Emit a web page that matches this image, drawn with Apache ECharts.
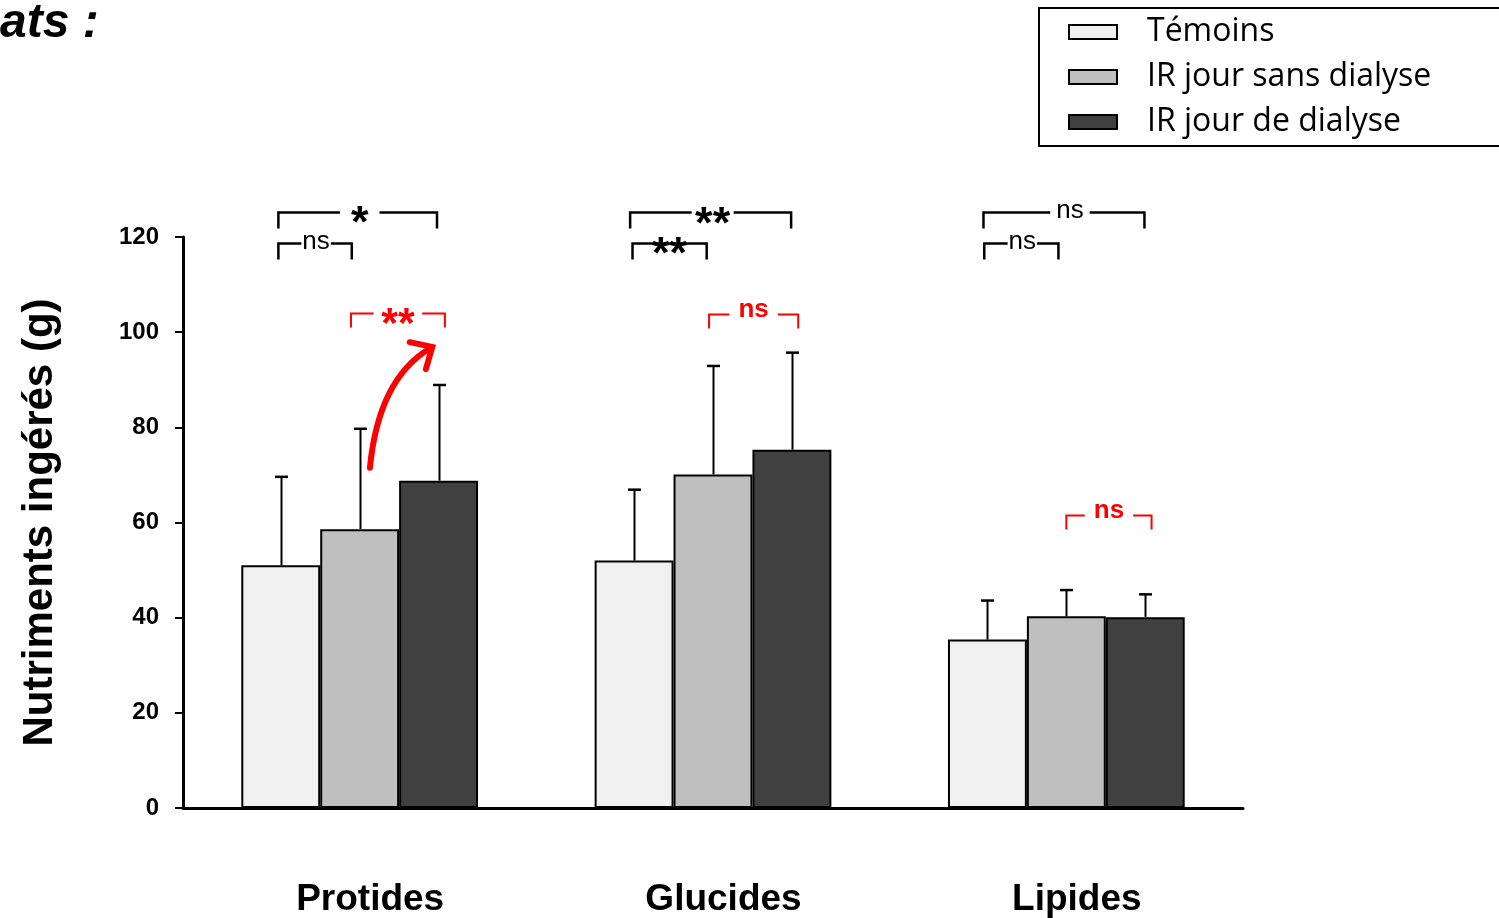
<!DOCTYPE html>
<html>
<head>
<meta charset="utf-8">
<script src="https://cdn.jsdelivr.net/npm/echarts@6/dist/echarts.min.js"></script>
<style>html,body{margin:0;padding:0;background:#fff;}#c{width:1499px;height:918px;}</style>
</head>
<body>
<div id="c"></div>
<script>
// ---- data ----
const categories = ['Protides', 'Glucides', 'Lipides'];
const seriesNames = ['Témoins', 'IR jour sans dialyse', 'IR jour de dialyse'];
const temoins = [51.0, 52.0, 35.4];
const irSans = [58.6, 70.1, 40.3];
const irDe = [68.8, 75.3, 40.1];
const temoinsUpper = [69.6, 66.9, 43.6];
const irSansUpper = [79.7, 92.9, 45.8];
const irDeUpper = [88.9, 95.7, 44.9];
const yTicks = [0, 20, 40, 60, 80, 100, 120];
const titleText = 'ats :';
const yAxisTitle = 'Nutriments ingérés (g)';

// significance annotations (category, bracket level value, from/to in bar units, label, kind)
const sigCat = [0, 0, 0, 1, 1, 1, 2, 2, 2];
const sigLevel = [125.2, 118.7, 104.0, 125.2, 118.7, 103.8, 125.2, 118.7, 61.5];
const sigFrom = [-0.03, -0.03, 0.89, -0.05, -0.02, 0.95, -0.05, -0.04, 1.0];
const sigTo = [1.98, 0.9, 2.08, 1.99, 0.92, 2.08, 1.99, 0.9, 2.08];
const sigText = ['*', 'ns', '**', '**', '**', 'ns', 'ns', 'ns', 'ns'];
const sigKind = ['top', 'low', 'red', 'top', 'low', 'red', 'top', 'low', 'red'];

// curved red arrow anchors (bar units / values) in Protides
const arrowBar = [1.13, 1.2, 1.44, 1.92];
const arrowVal = [71.5, 83.7, 92.1, 96.9];

const colors = ['#f0f0f0', '#bfbfbf', '#404040'];
const barValues = [temoins, irSans, irDe];
const upperValues = [temoinsUpper, irSansUpper, irDeUpper];
const CAT_GAP = 0.33;

const measureCtx = document.createElement('canvas').getContext('2d');
function textWidth(txt, font) { measureCtx.font = font; return measureCtx.measureText(txt).width; }

const chart = echarts.init(document.getElementById('c'));

function barW(api) {
  return api.size([1, 0])[0] * (1 - CAT_GAP) / 3;
}

const errData = [];
for (let s = 0; s < 3; s++) {
  for (let c = 0; c < categories.length; c++) {
    errData.push([c, s, barValues[s][c], upperValues[s][c]]);
  }
}

const sigData = sigCat.map((c, i) => [c, sigLevel[i], sigFrom[i], sigTo[i], i]);

const barSeries = seriesNames.map((name, s) => ({
  name: name,
  type: 'bar',
  data: barValues[s],
  barGap: '0%',
  barCategoryGap: (CAT_GAP * 100) + '%',
  itemStyle: { color: colors[s], borderColor: '#000', borderWidth: 2 },
  emphasis: { disabled: true },
  z: 2
}));

function sigStyle(kind, txt) {
  const star = txt.indexOf('*') >= 0;
  if (kind === 'red') {
    return star ? { font: 'bold 43px "Liberation Sans"', pad: 7.5, dy: 11.5, dx: 0 }
                : { font: 'bold 26px "Liberation Sans"', pad: 9, dy: -5, dx: 0 };
  }
  if (star) {
    if (kind === 'top') return { font: 'bold 45px "Liberation Sans"', pad: txt.length > 1 ? 3.5 : 11, dy: txt.length > 1 ? 13.5 : 12, dx: 2 };
    return { font: 'bold 45px "Liberation Sans"', pad: -1, dy: 12.5, dx: 0 };
  }
  return { font: '26px "Liberation Sans"', pad: kind === 'top' ? 6 : 1, dy: -2, dx: kind === 'top' ? 6 : 1 };
}

const option = {
  animation: false,
  backgroundColor: '#fff',
  textStyle: { fontFamily: 'Liberation Sans' },
  graphic: [{
    type: 'text', left: 0, top: 0,
    style: { text: titleText, font: 'italic bold 48px "Liberation Sans"', fill: '#000' }
  }],
  legend: {
    orient: 'vertical',
    left: 1039, top: 8,
    padding: [7, 200, 7, 29],
    borderColor: '#000', borderWidth: 2,
    itemWidth: 48, itemHeight: 14, itemGap: 11,
    icon: 'rect',
    data: seriesNames,
    textStyle: { fontFamily: 'Open Sans', fontSize: 32, color: '#000', lineHeight: 34, padding: [0, 0, 0, 25] },
    selectedMode: false
  },
  grid: { left: 183, right: 256, top: 237, bottom: 109, containLabel: false },
  xAxis: {
    type: 'category',
    data: categories,
    axisLine: { lineStyle: { color: '#000', width: 3 } },
    axisTick: { show: false },
    axisLabel: { color: '#000', fontSize: 37, fontWeight: 'bold', margin: 73, padding: [0, 0, 0, 21], fontFamily: 'Liberation Sans' }
  },
  yAxis: {
    type: 'value', min: yTicks[0], max: yTicks[yTicks.length - 1], interval: yTicks[1] - yTicks[0],
    name: yAxisTitle, nameLocation: 'middle', nameRotate: 90, nameGap: 122,
    nameTextStyle: { fontSize: 42, fontWeight: 'bold', color: '#000', fontFamily: 'Liberation Sans' },
    axisLine: { show: true, lineStyle: { color: '#000', width: 3 } },
    axisTick: { show: true, inside: false, length: 8, lineStyle: { color: '#000', width: 2 } },
    axisLabel: { color: '#000', fontSize: 24, fontWeight: 'bold', margin: 24, fontFamily: 'Liberation Sans' },
    splitLine: { show: false }
  },
  series: barSeries.concat([
    {
      type: 'custom',
      z: 5,
      silent: true,
      data: errData,
      encode: { x: 0, y: 3 },
      renderItem: function (params, api) {
        const c = api.value(0), s = api.value(1);
        const bw = barW(api);
        const base = api.coord([c, api.value(2)]);
        const top = api.coord([c, api.value(3)]);
        const x = Math.round(base[0] + (s - 1) * bw) + 0.5;
        return {
          type: 'group',
          children: [
            { type: 'line', shape: { x1: x, y1: base[1], x2: x, y2: top[1] }, style: { stroke: '#000', lineWidth: 2 } },
            { type: 'line', shape: { x1: x - 6.5, y1: top[1], x2: x + 6.5, y2: top[1] }, style: { stroke: '#000', lineWidth: 2.5 } }
          ]
        };
      }
    },
    {
      type: 'custom',
      z: 6,
      silent: true,
      data: sigData,
      encode: { x: 0, y: 1 },
      renderItem: function (params, api) {
        const i = api.value(4);
        const bw = barW(api);
        const p = api.coord([api.value(0), api.value(1)]);
        const x1 = p[0] + (api.value(2) - 1) * bw;
        const x2 = p[0] + (api.value(3) - 1) * bw;
        const y = Math.round(p[1]) + 0.5;
        const kind = sigKind[i];
        const red = kind === 'red';
        const col = red ? '#ff0000' : '#000';
        const tick = red ? 14 : 16;
        const txt = sigText[i];
        const st = sigStyle(kind, txt);
        const mid = (x1 + x2) / 2 + st.dx;
        const half = st.pad < 0 ? 0 : textWidth(txt, st.font) / 2 + st.pad;
        const lw = red ? 2 : 2.5;
        const children = [];
        if (half > 0) {
          children.push({ type: 'polyline', shape: { points: [[x1, y + tick], [x1, y], [mid - half, y]] }, style: { stroke: col, lineWidth: lw, fill: null } });
          children.push({ type: 'polyline', shape: { points: [[mid + half, y], [x2, y], [x2, y + tick]] }, style: { stroke: col, lineWidth: lw, fill: null } });
        } else {
          children.push({ type: 'polyline', shape: { points: [[x1, y + tick], [x1, y], [x2, y], [x2, y + tick]] }, style: { stroke: col, lineWidth: lw, fill: null } });
        }
        children.push({
          type: 'text', x: mid, y: y + st.dy,
          style: { text: txt, font: st.font, fill: col, align: 'center', verticalAlign: 'middle' }
        });
        return { type: 'group', children: children };
      }
    },
    {
      type: 'custom',
      z: 7,
      silent: true,
      data: [[0, arrowVal[0]]],
      encode: { x: 0, y: 1 },
      renderItem: function (params, api) {
        const bw = barW(api);
        const pts = arrowBar.map((b, k) => {
          const q = api.coord([0, arrowVal[k]]);
          return [q[0] + (b - 1) * bw, q[1]];
        });
        const end = pts[3], cp = pts[2];
        const ang = Math.atan2(end[1] - cp[1], end[0] - cp[0]);
        const L = 23, spread = 0.75;
        const a1 = [end[0] - L * Math.cos(ang - spread), end[1] - L * Math.sin(ang - spread)];
        const a2 = [end[0] - L * Math.cos(ang + spread), end[1] - L * Math.sin(ang + spread)];
        return {
          type: 'group',
          children: [
            {
              type: 'bezierCurve',
              shape: { x1: pts[0][0], y1: pts[0][1], cpx1: pts[1][0], cpy1: pts[1][1], cpx2: pts[2][0], cpy2: pts[2][1], x2: end[0] - 3 * Math.cos(ang), y2: end[1] - 3 * Math.sin(ang) },
              style: { stroke: '#ff0000', lineWidth: 6, fill: null, lineCap: 'round' }
            },
            {
              type: 'polyline',
              shape: { points: [a1, end, a2] },
              style: { stroke: '#ff0000', lineWidth: 6, fill: null, lineCap: 'round', lineJoin: 'miter' }
            }
          ]
        };
      }
    }
  ])
};
chart.setOption(option);
</script>
</body>
</html>
